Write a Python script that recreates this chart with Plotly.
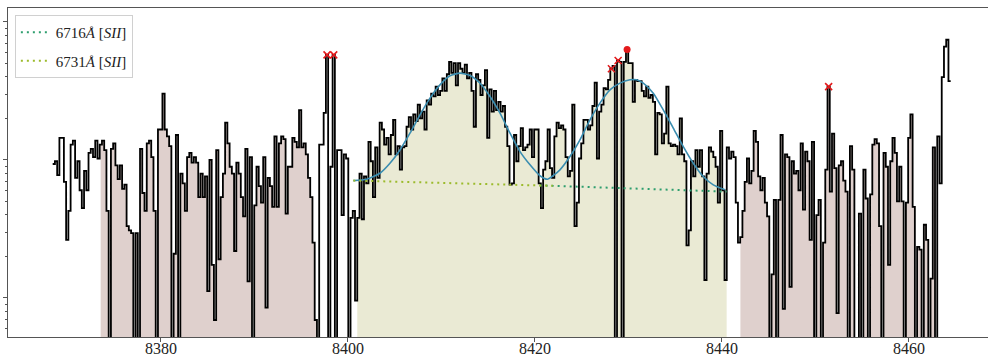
import numpy as np
import plotly.graph_objects as go

# ---------------- data ----------------
wl_start = 8368.42      # first wavelength bin (Angstrom)
wl_step = 0.2395        # bin width (Angstrom)
B = -2.0                # bins with (near) zero / negative flux -> off the log axis

# log10(flux) of the spectrum, in four consecutive chunks
seg_a = [0.97, 0.99, 0.89, 1.16, 1.16, 0.84, 0.42, 0.63, 1.11, 1.14,
         0.87, 0.99, 0.78, 0.65, 0.92, 0.78, 1.05, 1.08, 1.02, 1.14,
         1.01, 1.11, 1.14, 1.07, 0.63, B, 1.08, 1.12, 0.96, 0.86,
         0.96, 0.79, 0.82, 0.52, 0.49, 0.47, B, 0.47, B, 1.08,
         0.76, 0.63, 1.12, 1.14, 1.02, 0.63, B, 1.22, 1.22, 1.48,
         1.22, 1.17, 1.10, B, 0.32, 1.18, B, 0.90, 0.83, 0.63,
         1.02, 1.05, 0.98, 1.02, 0.98, 0.73, 0.90, 0.73, 0.88, 0.05,
         1.00, 0.24, -0.16, 1.07, 0.28, 0.73, 0.90, 1.27, 1.12, 0.95,
         0.90, 0.34, 0.98, 0.90, 0.73, 0.59, 1.08, 0.12, 1.02, B,
         0.67, 0.95, 0.81, 0.69, 1.02, -0.07, 0.87, 0.81, 0.66, 1.17,
         0.66, 1.12, 1.17, 1.15, 0.61]
seg_b = [0.95, 0.95, 1.16, 1.13, 1.09, 1.36, 1.09, 1.12, 1.04, 0.87,
         0.73, 0.40, -0.16, B, 1.11, 1.11, 1.34, 1.76, B, 0.95,
         1.76, B, 1.07, 1.07, 0.60, 1.04, 1.01, B, 0.58, 0.63,
         -0.02, 0.58, 0.90, 0.57, 0.88, 0.83, 1.13, 0.99, 0.73, 1.09,
         0.87, 1.27, 1.22, 1.11, 1.16, 1.04, 1.18, 1.29, 1.04, 1.10,
         0.93, 1.09, 1.10, 1.24, 1.31, 1.22, 1.33, 1.28, 1.40, 1.30,
         1.35, 1.22, 1.43, 1.40, 1.48, 1.46, 1.53, 1.47, 1.50, 1.59,
         1.50, 1.62, 1.71, 1.63, 1.70, 1.54, 1.70, 1.66, 1.63, 1.69,
         1.59, 1.63, 1.50, 1.24, 1.62, 1.58, 1.47, 1.54, 1.65, 1.16,
         1.51, 1.35, 1.50, 1.36, 1.42, 1.35, 1.39, 1.24, 1.10, 0.82,
         0.83, 1.18, 0.99, 1.10, 1.23, 1.07, 1.09, 1.11, 1.22, 1.02,
         1.22, 1.22]
seg_c = [0.83, 0.65, 0.93, 0.99, 1.22, 0.94, 0.87, 1.17, 1.27, 1.23,
         1.25, 1.22, 1.02, 0.88, 0.92, 1.40, 0.52, 0.69, 1.01, 1.12,
         1.29, 1.29, 1.22, 1.25, 1.39, 1.56, 1.01, 1.35, 1.40, 1.52,
         1.51, 1.58, 1.66, 1.68, B, 1.72, 1.71, B, 1.71, 1.80,
         1.70, 1.70, 1.42, 1.58, 1.57, 1.57, 1.50, 1.46, 1.53, 1.45,
         1.47, 1.42, 1.04, 1.34, 1.33, 1.12, 1.19, 1.53, 1.12, 1.10,
         1.11, 1.10, 1.04, 1.30, 1.04, 0.99, 0.38, 0.49, 0.99, 0.88,
         1.07, 0.95, 1.07, 0.88, 0.13, 0.90, 1.09, 1.06, 1.02, 0.95,
         0.69, 1.21, 0.78, 0.13, 1.09, 1.01, 1.06, 1.02, 0.69, 0.40,
         0.44, 0.63, 0.84, 1.01, 0.83, 0.92, 1.21, 1.13, 0.88, 0.78,
         0.87, 0.69, 0.59, B, 0.17, 0.71, B, 0.71, 1.18, -0.08,
         1.04, 1.02]
seg_d = [0.08, 0.99, 0.90, 0.92, 0.78, 1.12, 0.64, 1.06, 0.99, 0.42,
         1.13, B, 0.60, 0.71, B, 0.40, 0.93, 1.53, 0.77, 1.19,
         0.94, -0.11, 0.96, 0.99, 0.85, 0.77, B, 1.10, 0.93, B,
         B, 0.61, B, 0.93, 0.72, B, 0.75, 1.11, 1.15, 1.12,
         0.52, B, 1.05, 0.95, 0.24, 0.99, 1.16, 1.05, 0.70, 0.95,
         0.70, B, 0.69, 1.16, 1.33, 0.66, B, 0.37, 0.35, B,
         0.53, 0.42, B, 0.14, 1.09, B, 1.17, 0.83, 1.60, 1.82,
         1.87, 1.57]

# shaded windows (Angstrom)
cont_windows = [(8373.55, 8396.80), (8441.97, 8463.00)]
line_window = (8400.93, 8440.50)

# total Gaussian fit, sampled
fit_wl = [8400.57, 8402.00, 8403.42, 8404.49, 8405.56, 8406.63, 8407.70, 8408.77,
          8409.84, 8410.91, 8411.98, 8413.05, 8414.12, 8415.19, 8416.26, 8417.33,
          8418.40, 8419.47, 8420.53, 8421.35, 8422.67, 8423.74, 8424.81, 8425.88,
          8426.95, 8428.02, 8429.09, 8430.16, 8430.88, 8431.58, 8432.65, 8433.72,
          8434.79, 8435.86, 8436.93, 8438.00, 8439.07, 8440.32]
fit_log = [0.850, 0.860, 0.903, 0.975, 1.072, 1.193, 1.326, 1.447, 1.543, 1.609,
           1.628, 1.611, 1.555, 1.459, 1.338, 1.193, 1.060, 0.964, 0.885, 0.860,
           0.928, 1.024, 1.145, 1.290, 1.411, 1.507, 1.556, 1.580, 1.580, 1.556,
           1.483, 1.362, 1.230, 1.096, 0.976, 0.879, 0.819, 0.783]

# continuum levels under each line
cont6716_wl = [8420.50, 8440.50]
cont6716_log = [0.815, 0.770]
cont6731_wl = [8400.57, 8421.90]
cont6731_log = [0.850, 0.812]

flagged_idx = [122, 125, 249, 252, 346]   # flagged pixels (red x)
peak_idx = [256]                           # line peak (red dot)

x_ticks = [8380, 8400, 8420, 8440, 8460]

# ---------------- build ----------------
log_flux = np.array(seg_a + seg_b + seg_c + seg_d)
flux = 10 ** log_flux
wl = wl_start + wl_step * np.arange(len(flux))
floor = 1e-3


def step_polygon(a, b):
    centers = wl + wl_step / 2
    idx = np.where((centers >= a) & (centers <= b))[0]
    xs, ys = [], []
    for i in idx:
        xs += [max(wl[i], a), min(wl[i] + wl_step, b)]
        ys += [flux[i], flux[i]]
    xs += [xs[-1], xs[0], xs[0]]
    ys += [floor, floor, ys[0]]
    return xs, ys


fig = go.Figure()

brown = "rgba(140,86,75,0.28)"
olive = "rgba(128,128,0,0.17)"
for (a, b) in cont_windows:
    xs, ys = step_polygon(a, b)
    fig.add_trace(go.Scatter(x=xs, y=ys, mode="lines", fill="toself", fillcolor=brown,
                             line=dict(width=0), showlegend=False, hoverinfo="skip"))
xs, ys = step_polygon(*line_window)
fig.add_trace(go.Scatter(x=xs, y=ys, mode="lines", fill="toself", fillcolor=olive,
                         line=dict(width=0), showlegend=False, hoverinfo="skip"))

# spectrum
xs = np.append(wl, wl[-1] + wl_step)
ys = np.append(flux, flux[-1])
fig.add_trace(go.Scatter(x=xs, y=ys, mode="lines", line=dict(color="black", width=1.8, shape="hv"),
                         showlegend=False))

# fit
fig.add_trace(go.Scatter(x=fit_wl, y=10 ** np.array(fit_log), mode="lines",
                         line=dict(color="#3a8db0", width=1.6, shape="spline", smoothing=0.6),
                         showlegend=False))

# continua (legend entries)
fig.add_trace(go.Scatter(x=cont6716_wl, y=10 ** np.array(cont6716_log), mode="lines",
                         line=dict(color="#2e9e6e", width=2, dash="2px,4px"),
                         name="6716<i>Å</i> [<i>SII</i>]", legendgroup="a"))
fig.add_trace(go.Scatter(x=cont6731_wl, y=10 ** np.array(cont6731_log), mode="lines",
                         line=dict(color="#9cbb2c", width=2, dash="2px,4px"),
                         name="6731<i>Å</i> [<i>SII</i>]", legendgroup="b"))

# markers
fig.add_trace(go.Scatter(x=wl[flagged_idx] + wl_step / 2, y=flux[flagged_idx], mode="markers",
                         marker=dict(symbol="x-thin", size=7, line=dict(color="#e41a1c", width=1.6)),
                         showlegend=False))
fig.add_trace(go.Scatter(x=wl[peak_idx] + wl_step / 2, y=flux[peak_idx], mode="markers",
                         marker=dict(symbol="circle", size=7, color="#e41a1c"),
                         showlegend=False))

minor_vals = [0.6, 0.7, 0.8, 0.9] + list(range(2, 10)) + [20, 30, 40, 50, 60, 70, 80, 90]

fig.update_layout(
    width=988, height=359,
    margin=dict(l=8, r=0, t=8, b=22),
    paper_bgcolor="white", plot_bgcolor="white",
    font=dict(family="Liberation Serif", color="#222"),
    legend=dict(x=0.007, y=0.979, xanchor="left", yanchor="top",
                bgcolor="white", bordercolor="#d0d0d0", borderwidth=1,
                tracegroupgap=6, itemwidth=30,
                font=dict(family="Liberation Serif", size=15, color="#222")),
    xaxis=dict(range=[8363.64, 8468.45], showgrid=False, zeroline=False, automargin=False,
               showline=True, linecolor="#555", linewidth=1.2, mirror=True,
               ticks="outside", ticklen=4, tickcolor="#555", ticklabelstandoff=-7,
               tickmode="array", tickvals=x_ticks,
               tickfont=dict(family="Liberation Serif", size=16, color="#222")),
    yaxis=dict(type="log", range=[-0.283, 2.10], showgrid=False, zeroline=False, automargin=False,
               showline=True, linecolor="#555", linewidth=1.2,
               ticks="outside", ticklen=4, tickcolor="#555",
               tickmode="array", tickvals=[1, 10, 100], showticklabels=False,
               minor=dict(tickmode="array", tickvals=minor_vals, ticks="outside",
                          ticklen=2, tickcolor="#555", showgrid=False)),
)

fig.write_html("out.html")
